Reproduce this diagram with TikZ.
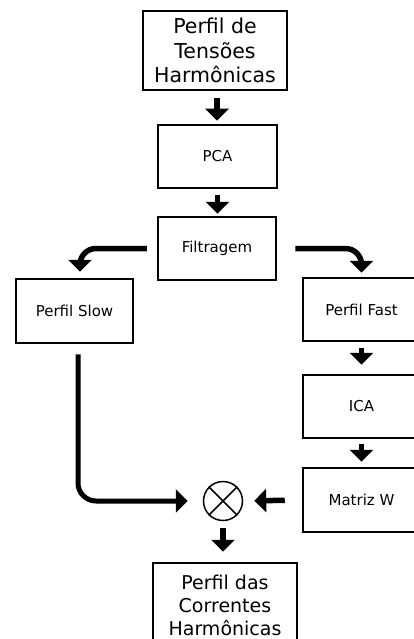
\documentclass[tikz,border=0pt]{standalone}
\usepackage{fontspec}
\setmainfont{DejaVu Sans}
\usetikzlibrary{arrows.meta}
\begin{document}
\begin{tikzpicture}[x=1pt,y=-1pt,
  box/.style={draw,line width=2.5pt,inner sep=0pt,align=center},
  small/.style={box,font=\fontsize{15}{18}\selectfont},
  big/.style={box,font=\fontsize{20.5}{24.5}\selectfont},
  big2/.style={box,font=\fontsize{19}{23}\selectfont},
  arr/.style={line width=5.5pt,-{Triangle[width=23pt,length=12pt]}}]
\useasboundingbox (0,0) rectangle (414,639);
\clip (0,0) rectangle (414,639);
\fill[white] (0,0) rectangle (414,639);
\node[big,minimum width=144pt,minimum height=79pt] (top) at (215,50.5) {Perfil de\\Tensões\\Harmônicas};
\node[small,minimum width=119pt,minimum height=63pt] (pca) at (217.5,156.5) {PCA};
\node[small,minimum width=118pt,minimum height=63pt] (filt) at (217,248.5) {Filtragem};
\node[small,minimum width=117pt,minimum height=64pt] (slow) at (74.5,311) {Perfil Slow};
\node[small,minimum width=117pt,minimum height=63pt] (fast) at (361.5,309.5) {Perfil Fast};
\node[small,minimum width=117pt,minimum height=63pt] (ica) at (361.5,406.5) {ICA};
\node[small,minimum width=117pt,minimum height=64pt] (mw) at (361.5,500) {Matriz W};
\node[draw,line width=1.5pt,circle,minimum size=39pt,inner sep=0pt] (ot) at (223,501) {};
\draw[line width=1.5pt] (ot.north west) -- (ot.south east) (ot.north east) -- (ot.south west);
\node[big2,minimum width=144pt,minimum height=84pt] (bot) at (225,605) {Perfil das\\Correntes\\Harmônicas};
\draw[arr,shorten <=7pt,shorten >=3pt] ([xshift=2pt]top.south) -- ([xshift=2pt]top.south |- pca.north);
\draw[arr,shorten <=6pt,shorten >=2pt] (pca.south) -- (pca.south |- filt.north);
\draw[arr,rounded corners=16pt,shorten <=5pt,shorten >=6pt] ([xshift=-5pt]filt.west) -| ([xshift=5.5pt]slow.north);
\draw[arr,rounded corners=16pt,shorten <=9pt,shorten >=4pt] ([xshift=9pt]filt.east) -| (fast.north);
\draw[arr,shorten <=6pt,shorten >=9pt] (fast.south) -- (ica.north);
\draw[arr,shorten <=5pt,shorten >=5pt] (ica.south) -- (mw.north);
\draw[arr,line width=5pt,rounded corners=18pt,shorten <=10pt,shorten >=15pt] ([xshift=3.5pt]slow.south) |- (ot.west);
\draw[arr,shorten <=17pt,shorten >=11pt] (mw.west) -- (ot.east);
\draw[arr,shorten <=7pt,shorten >=10pt] (ot.south) -- (ot.south |- bot.north);
\end{tikzpicture}
\end{document}
